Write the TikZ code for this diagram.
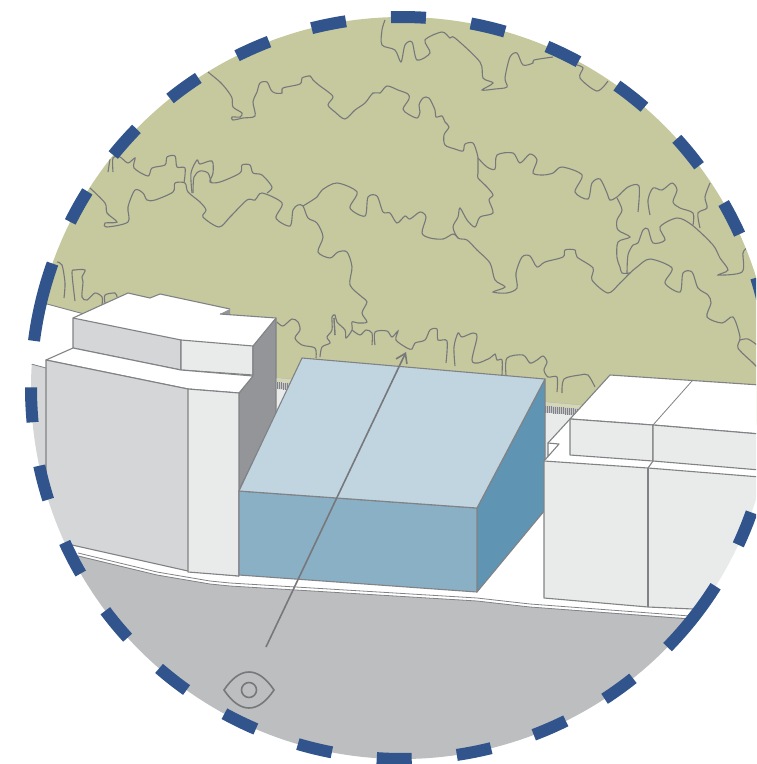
\documentclass[tikz,border=0pt]{standalone}
\usepackage{tikz}
\usetikzlibrary{arrows.meta}
\definecolor{parkcolor}{HTML}{C6C99D}
\definecolor{streetcolor}{HTML}{BDBEC0}
\definecolor{shadecolor}{HTML}{D5D6D8}
\definecolor{lightcolor}{HTML}{E9EBEA}
\definecolor{darkcolor}{HTML}{939598}
\definecolor{blocktop}{HTML}{C1D5E1}
\definecolor{blockfront}{HTML}{8AB0C6}
\definecolor{blockside}{HTML}{6094B3}
\definecolor{framecolor}{HTML}{30548B}
\definecolor{edgecolor}{HTML}{808285}
\definecolor{treecolor}{HTML}{77787B}
\tikzset{
  face/.style={draw=edgecolor, line width=1.1pt, line join=round},
  treeline/.style={draw=treecolor, line width=1.1pt},
  framedash/.style={draw=framecolor, line width=12pt},
  viewline/.style={draw=treecolor, line width=1.6pt},
}
\begin{document}
\begin{tikzpicture}[x=1pt, y=1pt, yscale=-1]
\clip (0,0) rectangle (756,764);
\begin{scope}
\clip (402,388) circle (371);
\fill[parkcolor] (0,293) -- (47,304) -- (110,321) -- (277,378) -- (756,421) -- (756,0) -- (0,0) -- cycle;
\draw[edgecolor, line width=0.9pt] (0,293) -- (47,304) -- (110,321);
\draw[edgecolor!60, line width=0.8pt] (277,378) -- (756,421);
\draw[treeline] plot[smooth, tension=0.5] coordinates {(208,72) (220,82) (227,90) (232,98) (233,107) (242,113) (240,117) (232,117) (233,120) (243,118) (255,116) (253,102) (257,92) (260,83) (267,82) (271,90) (275,93) (282,93) (283,88) (300,84) (302,78) (310,76) (313,80) (320,86) (327,91) (333,97) (328,105) (335,112) (345,119) (355,110) (365,103) (373,93) (380,93) (387,86) (398,90) (408,94) (409,99) (403,109) (408,114) (417,118) (420,112) (419,105) (423,98) (429,98) (435,110) (436,117) (442,116) (445,122) (449,127) (444,135) (445,145) (455,149) (463,151) (465,144) (473,143) (477,153) (478,158)};
\draw[treeline] plot[smooth, tension=0.5] coordinates {(478,158) (478,173) (478,178) (487,187) (493,195) (489,200) (493,213) (480,217) (475,227) (467,220) (460,208) (458,217) (453,227) (458,238) (467,240) (477,250) (490,263) (495,280) (505,287) (493,292) (507,293) (517,288) (516,273) (522,257) (530,256) (537,267) (545,262) (563,257) (565,250) (575,250) (577,257) (593,268) (592,280) (608,293) (620,283) (630,273) (637,267) (650,259) (672,268) (665,283) (680,292) (683,273) (692,272) (698,288) (708,295) (711,303) (707,317) (722,323) (733,317) (740,337) (738,348) (752,362) (757,367)};
\draw[treeline] plot[smooth, tension=0.5] coordinates {(478,158) (487,167) (495,169) (497,155) (513,153) (520,163) (530,154) (537,160) (533,173) (543,175) (553,173) (562,167) (582,175) (575,192) (588,199) (592,183) (600,179) (607,193) (610,200) (617,197) (628,187) (639,186) (638,212)};
\draw[treeline] plot[smooth, tension=0.5] coordinates {(617,198) (622,210) (617,220) (618,230) (630,237) (618,242) (617,258) (620,267) (622,273) (630,273)};
\draw[treeline] plot[smooth, tension=0.5] coordinates {(627,273) (628,255) (633,245) (638,243) (643,230) (648,229) (653,243) (665,240) (660,227) (677,218) (692,225) (713,245) (720,258) (728,270) (718,275) (742,272) (743,253) (747,248)};
\draw[treeline] plot[smooth, tension=0.5] coordinates {(650,215) (648,200) (653,188) (662,190) (672,183) (677,190) (673,202) (680,208) (693,213) (693,225)};
\draw[treeline] plot[smooth, tension=0.5] coordinates {(700,228) (698,213) (707,208) (705,197) (710,183)};
\draw[treeline] plot[smooth, tension=0.5] coordinates {(385,20) (382,30) (382,45) (395,50) (401,62) (405,45) (412,42) (417,60) (430,53) (425,40) (442,32) (450,38) (455,38) (480,62) (483,78) (493,83) (482,90) (495,89) (507,87) (505,78) (510,57) (517,53) (523,65) (533,63) (534,60) (553,57)};
\draw[treeline] plot[smooth, tension=0.5] coordinates {(577,65) (583,68) (580,78) (597,91) (608,81)};
\draw[treeline] plot[smooth, tension=0.5] coordinates {(90,188) (105,203) (107,213) (117,222) (105,223) (107,227) (128,222) (128,207) (135,190) (143,193) (147,200) (155,200) (173,192) (175,183) (185,183) (188,192) (200,202) (206,210) (203,217) (219,227) (230,217) (247,200) (255,200) (262,193) (282,203) (276,218) (290,226) (293,210) (298,205) (303,206) (308,218) (317,223) (323,237) (318,252) (330,258) (338,252) (347,252) (352,267) (350,285) (362,297) (367,302) (362,313) (367,322) (358,323) (352,322) (352,330) (346,338) (345,330) (337,322) (335,315) (332,317) (332,330) (327,337) (330,343) (322,347) (320,357)};
\draw[treeline] plot[smooth, tension=0.5] coordinates {(303,206) (317,197) (322,190) (337,183) (357,192) (350,208) (365,216) (368,197) (377,196) (383,212) (390,213) (397,223) (405,216) (410,219) (420,212) (426,217) (422,233) (430,238) (443,239) (453,234) (458,238)};
\draw[treeline] (334,318) -- (335,335);
\draw[treeline] plot[smooth, tension=0.5] coordinates {(352,330) (360,335) (366,330) (372,333) (372,345)};
\draw[treeline] plot[smooth, tension=0.5] coordinates {(375,345) (375,332) (387,331) (392,337) (398,331) (396,340) (407,348) (412,349) (415,343) (425,340) (430,330) (437,329) (438,340) (447,341) (446,363)};
\draw[treeline] plot[smooth, tension=0.5] coordinates {(455,366) (454,347) (458,333) (462,337) (473,333) (477,337) (472,360) (478,363) (490,358) (495,354) (497,360) (502,360) (502,375)};
\draw[treeline] plot[smooth, tension=0.5] coordinates {(506,375) (507,358) (523,355) (530,363) (537,360) (543,356) (547,362) (544,370) (548,377) (557,377) (557,392)};
\draw[treeline] plot[smooth, tension=0.5] coordinates {(562,393) (564,379) (580,375) (588,375) (595,387)};
\draw[treeline] plot[smooth, tension=0.5] coordinates {(277,322) (283,326) (292,319) (298,322) (300,330) (295,338) (302,345) (315,348) (316,358)};
\draw[treeline] (334,318) -- (335,335);
\draw[treeline] plot[smooth, tension=0.5] coordinates {(108,172) (110,159)};
\draw[treeline] plot[smooth, tension=0.5] coordinates {(113,172) (113,158) (120,157) (128,163) (135,158) (134,168) (148,176) (152,168) (165,165) (167,157) (175,156) (177,167) (185,168) (184,183)};
\draw[treeline] plot[smooth, tension=0.5] coordinates {(192,193) (191,173) (197,160) (200,164) (212,161) (213,173) (210,182) (220,182) (240,173) (242,165) (250,165) (253,173) (262,175) (272,187) (267,193)};
\draw[treeline] plot[smooth, tension=0.5] coordinates {(193,193) (194,177) (200,171) (208,173) (211,182)};
\draw[treeline] plot[smooth, tension=0.5] coordinates {(57,262) (62,265) (65,283) (64,298)};
\draw[treeline] plot[smooth, tension=0.5] coordinates {(75,301) (72,273) (75,270) (85,270) (82,277) (83,282) (82,297) (87,300) (95,293) (102,297) (102,305)};
\draw[treeline] plot[smooth, tension=0.5] coordinates {(105,303) (105,295) (115,293) (117,297)};
\draw[treeline] plot[smooth, tension=0.5] coordinates {(740,340) (748,339) (757,345)};
\fill[parkcolor!75!white] (277,378) -- (756,421) -- (756,425) -- (277,382) -- cycle;
\fill[lightcolor] (277,389) -- (580,416) -- (570,419) -- (548,443) -- (548,457) -- (544,461) -- (545,510) -- (239,490) -- cycle;
\fill[edgecolor!45] (277,382) -- (582,409) -- (582,416) -- (277,389) -- cycle;
\foreach \x in {277,279,...,582}
  \draw[edgecolor, line width=0.6pt] (\x,{382+0.089*(\x-277)}) -- (\x,{389+0.089*(\x-277)});
\fill[streetcolor] (60,551) -- (157,575) -- (210,584) -- (230,586) -- (477,601) -- (530,607) -- (756,623) -- (756,764) -- (0,764) -- (0,551) -- cycle;
\draw[edgecolor, line width=0.8pt] (78,553) -- (157,572) -- (210,581) -- (230,583) -- (477,598) -- (530,604) -- (690,616);
\draw[edgecolor, line width=0.8pt] (78,556) -- (157,575) -- (210,584) -- (230,586) -- (477,601) -- (530,607) -- (690,619);
\fill[white] (73,318) -- (128,293) -- (150,298) -- (160,294) -- (230,309) -- (220,314) -- (276,318) -- (253,346) -- (181,340) -- cycle;
\draw[face] (73,318) -- (128,293) -- (150,298) -- (160,294) -- (230,309);
\fill[darkcolor] (220,314) -- (230,309) -- (230,314) -- cycle;
\draw[face] (220,314) -- (276,318);
\filldraw[face, fill=shadecolor] (73,318) -- (181,340) -- (181,370) -- (73,348) -- cycle;
\filldraw[face, fill=lightcolor] (181,340) -- (253,346) -- (253,375) -- (181,370) -- cycle;
\filldraw[face, fill=darkcolor] (253,346) -- (276,318) -- (276,415) -- (239,490) -- (239,393) -- (253,375) -- cycle;
\filldraw[face, fill=white] (73,348) -- (181,370) -- (253,376) -- (239,393) -- (188,389) -- (46,360) -- cycle;
\fill[shadecolor] (20,361) -- (46,368) -- (46,360) -- (188,389) -- (188,571) -- (72,545) -- (20,530) -- cycle;
\draw[edgecolor, line width=0.8pt] (20,361) -- (46,368);
\draw[face] (46,490) -- (46,360) -- (188,389);
\draw[face] (60,542) -- (72,545) -- (188,571) -- (239,576);
\filldraw[face, fill=lightcolor] (188,389) -- (239,393) -- (239,576) -- (188,572) -- cycle;
\filldraw[face, fill=blockside] (545,379) -- (477,508) -- (477,592) -- (545,510) -- cycle;
\filldraw[face, fill=blockfront] (239,491) -- (477,508) -- (477,592) -- (239,575) -- cycle;
\filldraw[face, fill=blocktop] (302,358) -- (545,379) -- (477,508) -- (239,491) -- cycle;
\fill[white] (544,461) -- (559,444) -- (548,443) -- (570,419) -- (570,455) -- (756,470) -- (756,477) -- (648,468) -- cycle;
\draw[face] (544,461) -- (559,444) -- (548,443) -- (548,457);
\draw[face] (548,443) -- (570,419);
\filldraw[face, fill=white] (570,419) -- (610,375) -- (760,385) -- (760,434) -- (653,425) -- cycle;
\draw[face, line width=0.8pt] (653,425) -- (692,381);
\filldraw[face, fill=lightcolor] (570,419) -- (653,425) -- (653,461) -- (570,455) -- cycle;
\filldraw[face, fill=lightcolor] (653,425) -- (760,434) -- (760,470) -- (653,461) -- cycle;
\fill[lightcolor] (544,461) -- (648,468) -- (760,477) -- (760,612) -- (693,609) -- (648,607) -- (544,598) -- cycle;
\draw[face] (544,461) -- (544,598) -- (648,607) -- (693,609);
\draw[face] (544,461) -- (648,468) -- (760,477);
\draw[face] (648,468) -- (648,607);
\draw[face] (648,468) -- (653,461);
\coordinate (viewfrom) at (266,647);
\coordinate (viewto) at (406,352);
\draw[viewline, -{Straight Barb[length=9pt,width=12pt]}] (viewfrom) -- (viewto);
\draw[viewline] (224,690) .. controls (240,666) and (258,666) .. (274,690) .. controls (258,714) and (240,714) .. (224,690) -- cycle;
\draw[viewline] (249,690) circle (7.5);
\end{scope}
\begin{scope}[shift={(402,388)}]
\foreach \a in {-89,-76.6,-64.3,-51.9,-39.5,-27.2,22.3,54.2,66.5,78.8,91.2,103.6,115.9,128.2,140.4,152.7,165.2,177.4,209.3,221.6,234,246.3,258.6}
  \draw[framedash] ({\a-2.7}:371) arc[start angle=\a-2.7, end angle=\a+2.7, radius=371];
\draw[framedash] (-17.3:371) arc[start angle=-17.3, end angle=-10, radius=371];
\draw[framedash] (32.3:371) arc[start angle=32.3, end angle=44.3, radius=371];
\draw[framedash] (187.3:371) arc[start angle=187.3, end angle=199.6, radius=371];
\end{scope}
\end{tikzpicture}
\end{document}
